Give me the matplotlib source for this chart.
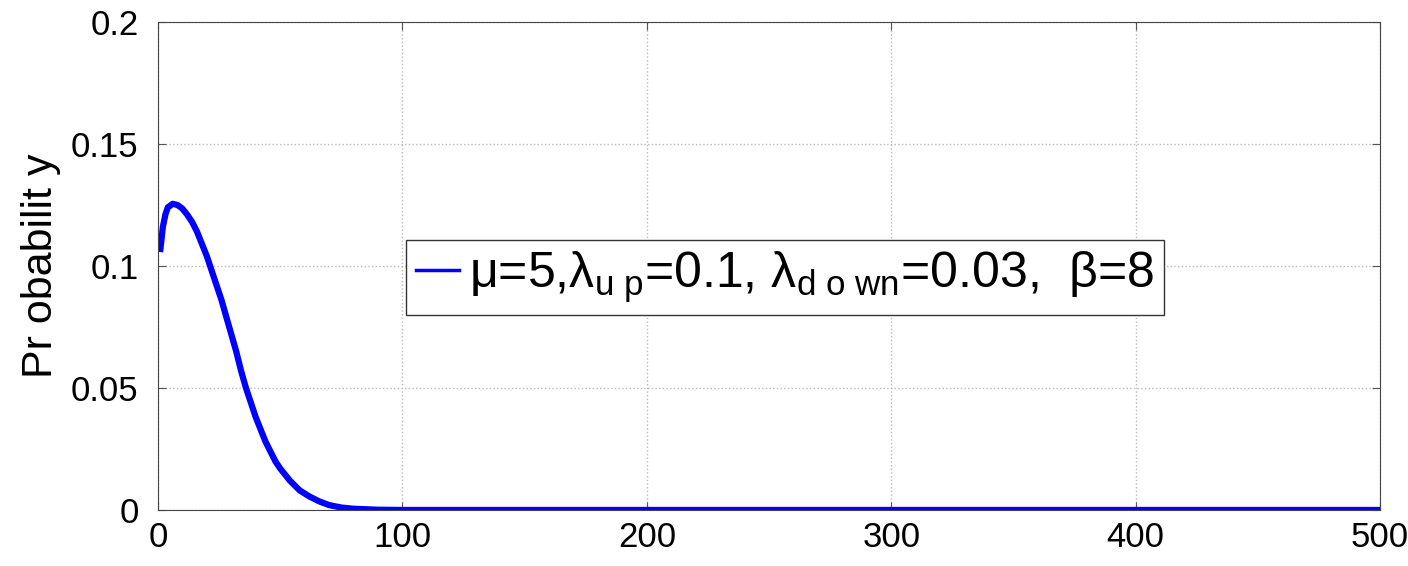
import matplotlib
matplotlib.use("Agg")
import matplotlib.pyplot as plt

plt.rcParams['font.family'] = ['Liberation Sans', 'DejaVu Sans']
plt.rcParams['mathtext.fontset'] = 'custom'
plt.rcParams['mathtext.rm'] = 'Liberation Sans'
plt.rcParams['mathtext.it'] = 'Liberation Sans'

# values
x_vals = [1, 2, 3, 4, 6, 8, 10, 12, 14, 16, 18, 20, 22, 24, 26, 28, 30, 32, 34, 36,
          38, 40, 42, 44, 46, 48, 50, 54, 58, 62, 66, 70, 75, 80, 90, 100,
          200, 300, 400, 500]
prob = [0.107, 0.116, 0.121, 0.124, 0.1255, 0.125, 0.1235, 0.121, 0.118, 0.114,
        0.109, 0.104, 0.098, 0.092, 0.086, 0.079, 0.072, 0.065, 0.057, 0.050,
        0.044, 0.038, 0.033, 0.028, 0.024, 0.020, 0.017, 0.012, 0.008, 0.0055,
        0.0035, 0.002, 0.001, 0.0005, 0.0001, 0.0,
        0.0, 0.0, 0.0, 0.0]

label = r'μ=5,λ$_{\mathrm{u\ p}}$=0.1, λ$_{\mathrm{d\ o\ wn}}$=0.03,  β=8'

fig = plt.figure(figsize=(14.08, 5.66), dpi=100)
ax = fig.add_axes([0.1122, 0.099, 0.868, 0.862])

ax.plot(x_vals, prob, color='#0000ff', linewidth=4.5, label=label)

ax.set_xlim(0, 500)
ax.set_ylim(0, 0.2)
ax.set_xticks([0, 100, 200, 300, 400, 500])
ax.set_yticks([0, 0.05, 0.1, 0.15, 0.2])
ax.set_yticklabels(['0', '0.05', '0.1', '0.15', '0.2'])
ax.tick_params(direction='in', length=6, labelsize=25, top=True, right=True,
               color='#555555')
ax.tick_params(axis='y', pad=14)
ax.tick_params(axis='x', pad=8)
ax.grid(True, linestyle=':', color='#bbbbbb', linewidth=1)
for s in ax.spines.values():
    s.set_color('#444444')

ax.set_ylabel('Pr obabilit y', fontsize=31, labelpad=7)

leg = ax.legend(loc='center', bbox_to_anchor=(0.513, 0.477), fontsize=36,
                fancybox=False, edgecolor='#333333', framealpha=1,
                handlelength=0.85, handletextpad=0.2, borderpad=0.2,
                borderaxespad=0)
leg.get_frame().set_linewidth(1)
for h in leg.get_lines():
    h.set_linewidth(2.5)

fig.savefig('out.png', dpi=100)
